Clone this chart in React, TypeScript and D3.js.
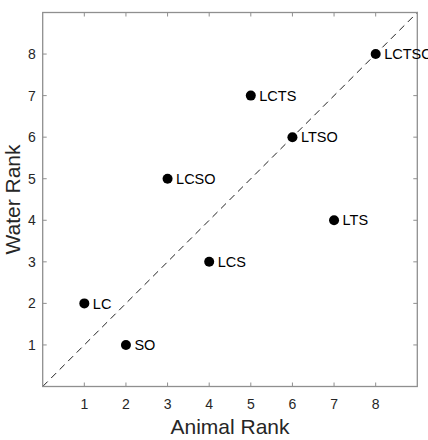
import * as d3 from 'd3';

// rank pairs for each feature combination
const combos = ['LC', 'SO', 'LCSO', 'LCS', 'LCTS', 'LTSO', 'LTS', 'LCTSO'];
const animalRank = [1, 2, 3, 4, 5, 6, 7, 8];
const waterRank = [2, 1, 5, 3, 7, 6, 4, 8];
const tickValues = [1, 2, 3, 4, 5, 6, 7, 8];

const AXIS = '#8f8f8f';
const TEXT = '#262626';
const FONT = '"Liberation Sans", Arial, Helvetica, sans-serif';

export default function App() {
  const width = 428;
  const height = 440;
  const left = 42.7;
  const right = 417.3;
  const top = 12.5;
  const bottom = 386.5;

  const x = d3.scaleLinear().domain([0, 9]).range([left, right]);
  const y = d3.scaleLinear().domain([0, 9]).range([bottom, top]);

  return (
    <svg
      width={width}
      height={height}
      style={{ position: 'absolute', left: 0, top: 0, background: '#fff' }}
      fontFamily={FONT}
    >
      {/* identity line */}
      <line
        x1={x(0)}
        y1={y(0)}
        x2={x(9)}
        y2={y(9)}
        stroke="#222"
        strokeWidth={1}
        strokeDasharray="7 5"
      />

      {/* box */}
      <rect x={left} y={top} width={right - left} height={bottom - top} fill="none" stroke={AXIS} strokeWidth={1.3} />

      {tickValues.map((t) => (
        <g key={`x${t}`}>
          <line x1={x(t)} x2={x(t)} y1={bottom} y2={bottom - 4} stroke={AXIS} />
          <line x1={x(t)} x2={x(t)} y1={top} y2={top + 4} stroke={AXIS} />
          <text x={x(t)} y={bottom + 22} textAnchor="middle" fontSize={14} fill={TEXT}>
            {t}
          </text>
        </g>
      ))}
      {tickValues.map((t) => (
        <g key={`y${t}`}>
          <line x1={left} x2={left + 4} y1={y(t)} y2={y(t)} stroke={AXIS} />
          <line x1={right} x2={right - 4} y1={y(t)} y2={y(t)} stroke={AXIS} />
          <text x={left - 7} y={y(t)} dy="0.36em" textAnchor="end" fontSize={14} fill={TEXT}>
            {t}
          </text>
        </g>
      ))}

      {combos.map((c, i) => (
        <g key={c}>
          <circle cx={x(animalRank[i])} cy={y(waterRank[i])} r={5} fill="#000" />
          <text
            x={x(animalRank[i]) + 8.5}
            y={y(waterRank[i])}
            dy="0.36em"
            fontSize={14.5}
            fill="#000"
          >
            {c}
          </text>
        </g>
      ))}

      <text x={(left + right) / 2} y={434} textAnchor="middle" fontSize={21} fill={TEXT}>
        Animal Rank
      </text>
      <text
        transform={`translate(20,${(top + bottom) / 2}) rotate(-90)`}
        textAnchor="middle"
        fontSize={21}
        fill={TEXT}
      >
        Water Rank
      </text>
    </svg>
  );
}
